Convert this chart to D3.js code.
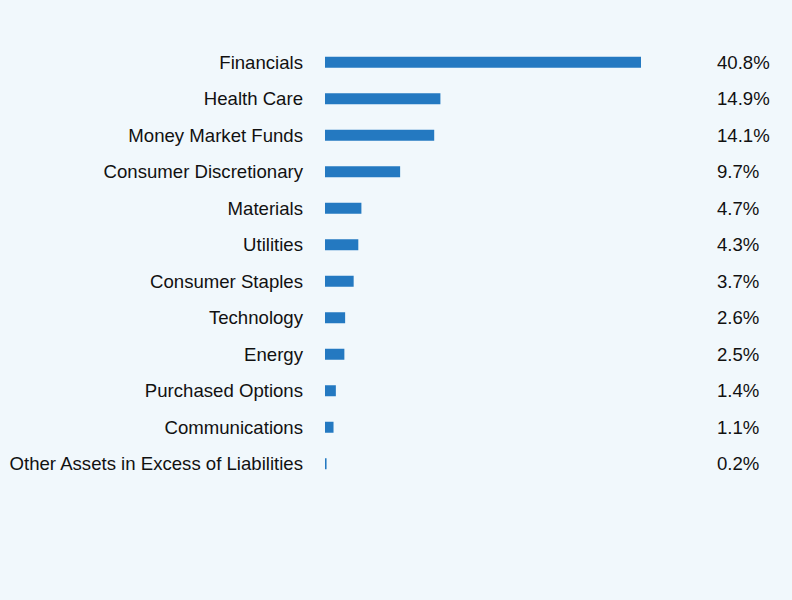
<!DOCTYPE html>
<html>
<head>
<meta charset="utf-8">
<script src="https://cdn.jsdelivr.net/npm/d3@7"></script>
<style>
  body { margin: 0; background: #f1f8fc; }
  svg { display: block; font-family: "Liberation Sans", Arial, sans-serif; }
</style>
</head>
<body>
<div class="chart"></div>
<script>
const sectors = ["Financials", "Health Care", "Money Market Funds", "Consumer Discretionary",
  "Materials", "Utilities", "Consumer Staples", "Technology", "Energy",
  "Purchased Options", "Communications", "Other Assets in Excess of Liabilities"];
const weights = [40.8, 14.9, 14.1, 9.7, 4.7, 4.3, 3.7, 2.6, 2.5, 1.4, 1.1, 0.2];

const width = 792, height = 600;

const svg = d3.select(".chart").append("svg")
  .attr("width", width)
  .attr("height", height);

svg.append("rect")
  .attr("width", width).attr("height", height)
  .attr("fill", "#f1f8fc");

// bars start at 325, 40.8% ends around 641
const x = d3.scaleLinear().domain([0, 40.8]).range([325, 641]);
const y = d3.scaleBand().domain(sectors).range([44, 482]).paddingInner(0.7).paddingOuter(0.35);

const rows = sectors.map((s, i) => ({ name: s, value: weights[i] }));

svg.selectAll(".bar")
  .data(rows)
  .join("rect")
  .attr("class", "bar")
  .attr("x", x(0))
  .attr("y", d => y(d.name) + y.bandwidth() / 2 - 5.5)
  .attr("width", d => x(d.value) - x(0))
  .attr("height", 11)
  .attr("fill", "#2479c1");

svg.selectAll(".label")
  .data(rows)
  .join("text")
  .attr("class", "label")
  .attr("x", 303)
  .attr("y", d => y(d.name) + y.bandwidth() / 2)
  .attr("dy", "0.35em")
  .attr("text-anchor", "end")
  .attr("font-size", 18.6)
  .attr("fill", "#111")
  .text(d => d.name);

svg.selectAll(".value")
  .data(rows)
  .join("text")
  .attr("class", "value")
  .attr("x", 717)
  .attr("y", d => y(d.name) + y.bandwidth() / 2)
  .attr("dy", "0.35em")
  .attr("font-size", 18.6)
  .attr("fill", "#111")
  .text(d => d.value.toFixed(1) + "%");
</script>
</body>
</html>
